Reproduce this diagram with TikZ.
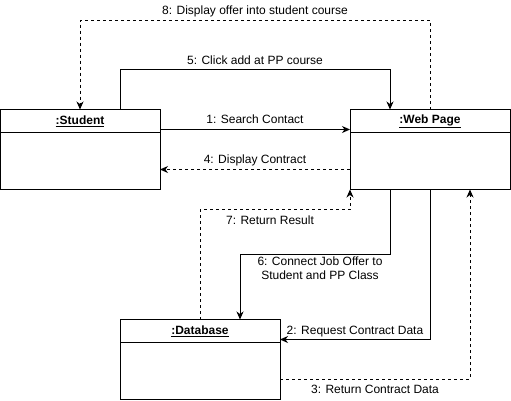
\documentclass[tikz,border=0pt]{standalone}
\usepackage{fontspec}
\setmainfont{Liberation Sans}
\usetikzlibrary{positioning,arrows.meta}

\begin{document}
\begin{tikzpicture}[x=1pt, y=-1pt, line width=1pt, font=\fontsize{12}{14}\selectfont,
  objhead/.style={draw, minimum width=160pt, minimum height=23pt, inner sep=0pt, outer sep=0pt, font=\fontsize{12}{14}\selectfont\bfseries},
  objbody/.style={draw, minimum width=160pt, minimum height=57pt, inner sep=0pt, outer sep=0pt},
  msg/.style={-{Stealth[length=8pt, width=7pt, inset=2.5pt]}},
  reply/.style={msg, dash pattern=on 3pt off 3pt},
  lbl/.style={inner sep=1.5pt, align=center}]
\useasboundingbox (0,0) rectangle (511,400);
% objects
\node[objhead] (student) at (80,121) {\underline{:Student}};
\node[objbody, below=0pt of student] (studentbody) {};
\node[objhead, right=190pt of student] (web) {\underline{:Web Page}};
\node[objbody, below=0pt of web] (webbody) {};
\node[objhead] (db) at (200,331) {\underline{:Database}};
\node[objbody, below=0pt of db] (dbbody) {};
% messages
\draw[msg] ([yshift=-8.5pt]student.east) -- node[lbl, above, yshift=4pt] {1: Search Contact} ([yshift=-8.5pt]web.west);
\draw[msg] (webbody.south) |- node[lbl, above, pos=0.75, yshift=1pt] {2: Request Contract Data} ([yshift=-8.5pt]db.east);
\draw[reply] ([yshift=-8pt]dbbody.east) -| node[lbl, below, pos=0.25, yshift=-4pt] {3: Return Contract Data} ([xshift=40pt]webbody.south);
\draw[reply] ([yshift=-8.5pt]webbody.west) -- node[lbl, above, yshift=2pt] {4: Display Contract} ([yshift=-8.5pt]studentbody.east);
\draw[msg] ([xshift=40pt]student.north) -- ++(0,-40) -| node[lbl, above, pos=0.25, yshift=3pt] {5: Click add at PP course} ([xshift=-40pt]web.north);
\draw[msg] ([xshift=-40pt]webbody.south) -- ++(0,65) -| node[lbl, below, pos=0.25, xshift=5pt] {6: Connect Job Offer to\\Student and PP Class} ([xshift=40pt]db.north);
\draw[reply] (db.north) -- ++(0,-110) -| node[lbl, below, pos=0.25, yshift=-4pt, xshift=-5pt] {7: Return Result} (webbody.south west);
\draw[reply] (web.north) -- ++(0,-89.5) -| node[lbl, above, pos=0.25, yshift=1pt] {8: Display offer into student course} (student.north);
\end{tikzpicture}
\end{document}
